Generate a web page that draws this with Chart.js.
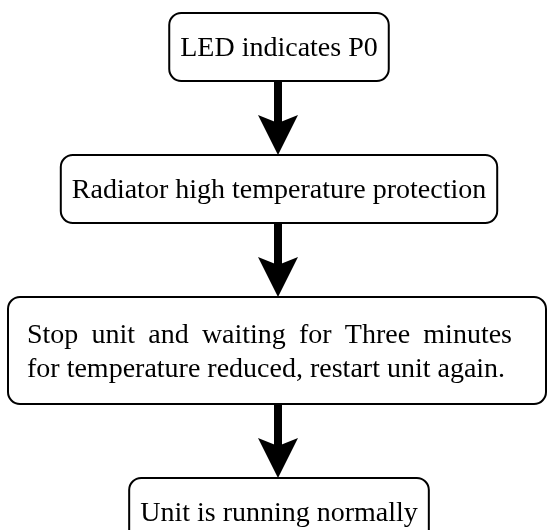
<!DOCTYPE html>
<html>
<head>
<meta charset="utf-8">
<script src="https://cdn.jsdelivr.net/npm/chart.js@4.4.1/dist/chart.umd.min.js"></script>
<style>
  html, body { margin: 0; padding: 0; background: #fff; }
</style>
</head>
<body>
<canvas id="flowChart" width="547" height="530"></canvas>
<script>
// flow steps, one entry per box (each entry = the text lines of that box)
const stepLines = [
  ['LED indicates P0'],
  ['Radiator high temperature protection'],
  ['Stop unit and waiting for Three minutes', 'for temperature reduced, restart unit again.'],
  ['Unit is running normally']
];

// drawing space, same units as the hidden axes
const view = { width: 547, height: 530 };

const flow = {
  font: '28px "Liberation Serif", "Times New Roman", serif',
  centerX: 279,
  firstTop: 13,
  arrowLength: 74,
  padX: 11,
  baseHeight: 29,
  lineStep: 39,
  lineHeight: 34,
  edgeMargin: 8,
  wideTextLeft: 19,
  wrapWidth: 485,
  radius: 12,
  shaftWidth: 8,
  headWidth: 40,
  headLength: 40,
  headNotch: 32
};

const measure = document.createElement('canvas').getContext('2d');
measure.font = flow.font;

let nextTop = flow.firstTop;
const boxes = stepLines.map(lines => {
  const h = flow.baseHeight + flow.lineStep * lines.length;
  let w;
  if (lines.length > 1) {
    w = view.width - 2 * flow.edgeMargin + 7;
  } else {
    w = measure.measureText(lines[0]).width + 2 * flow.padX;
  }
  const box = { cx: lines.length > 1 ? flow.edgeMargin + w / 2 : flow.centerX, cy: nextTop + h / 2, w: w, h: h, lines: lines };
  nextTop += h + flow.arrowLength;
  return box;
});

function roundRect(ctx, x, y, w, h, r) {
  ctx.beginPath();
  ctx.moveTo(x + r, y);
  ctx.arcTo(x + w, y, x + w, y + h, r);
  ctx.arcTo(x + w, y + h, x, y + h, r);
  ctx.arcTo(x, y + h, x, y, r);
  ctx.arcTo(x, y, x + w, y, r);
  ctx.closePath();
}

const flowPlugin = {
  id: 'flowBoxes',
  afterDatasetsDraw(chart) {
    const ctx = chart.ctx;
    const xs = chart.scales.x;
    const ys = chart.scales.y;
    const pts = chart.getDatasetMeta(0).data;
    const sx = v => xs.getPixelForValue(v);
    const sy = v => ys.getPixelForValue(v);
    const arrowX = flow.centerX - 1;

    ctx.save();

    // arrows between boxes
    for (let i = 0; i < boxes.length - 1; i++) {
      const from = boxes[i], to = boxes[i + 1];
      const x = sx(arrowX);
      const y0 = sy(from.cy + from.h / 2);
      const tip = sy(to.cy - to.h / 2);
      const headTop = sy(to.cy - to.h / 2 - flow.headLength);
      const notch = sy(to.cy - to.h / 2 - flow.headNotch);
      const halfShaft = sx(arrowX + flow.shaftWidth / 2) - x;
      const halfHead = sx(arrowX + flow.headWidth / 2) - x;
      ctx.fillStyle = '#000';
      ctx.fillRect(x - halfShaft, y0, halfShaft * 2, notch - y0 + 1);
      ctx.beginPath();
      ctx.moveTo(x, tip);
      ctx.lineTo(x - halfHead, headTop);
      ctx.lineTo(x, notch);
      ctx.lineTo(x + halfHead, headTop);
      ctx.closePath();
      ctx.fill();
    }

    // boxes and their text
    ctx.font = flow.font;
    boxes.forEach((b, i) => {
      const px = pts[i].x, py = pts[i].y;
      const left = sx(b.cx - b.w / 2), right = sx(b.cx + b.w / 2);
      const top = sy(b.cy - b.h / 2), bottom = sy(b.cy + b.h / 2);
      roundRect(ctx, left, top, right - left, bottom - top, flow.radius);
      ctx.fillStyle = '#fff';
      ctx.fill();
      ctx.lineWidth = 2;
      ctx.strokeStyle = '#000';
      ctx.stroke();

      ctx.fillStyle = '#000';
      ctx.textBaseline = 'alphabetic';
      if (b.lines.length === 1) {
        ctx.textAlign = 'center';
        ctx.fillText(b.lines[0], px, py + 9);
      } else {
        ctx.textAlign = 'left';
        const textLeft = left + flow.wideTextLeft;
        const n = b.lines.length;
        const firstBase = py + 9 - (n - 1) * flow.lineHeight / 2;
        b.lines.forEach((line, j) => {
          const base = firstBase + j * flow.lineHeight;
          if (j < n - 1) {
            // justified line
            const words = line.split(' ');
            const used = words.reduce((s, w) => s + ctx.measureText(w).width, 0);
            const gap = (flow.wrapWidth - used) / (words.length - 1);
            let cx = textLeft;
            words.forEach(w => {
              ctx.fillText(w, cx, base);
              cx += ctx.measureText(w).width + gap;
            });
          } else {
            ctx.fillText(line, textLeft, base);
          }
        });
      }
    });

    ctx.restore();
  }
};

new Chart(document.getElementById('flowChart').getContext('2d'), {
  type: 'scatter',
  data: {
    datasets: [{
      data: boxes.map(b => ({ x: b.cx, y: b.cy })),
      pointRadius: 0,
      pointHoverRadius: 0
    }]
  },
  options: {
    responsive: false,
    animation: false,
    events: [],
    layout: { padding: 0 },
    scales: {
      x: { type: 'linear', min: 0, max: view.width, display: false },
      y: { type: 'linear', min: 0, max: view.height, reverse: true, display: false }
    },
    plugins: {
      legend: { display: false },
      tooltip: { enabled: false }
    }
  },
  plugins: [flowPlugin]
});
</script>
</body>
</html>
